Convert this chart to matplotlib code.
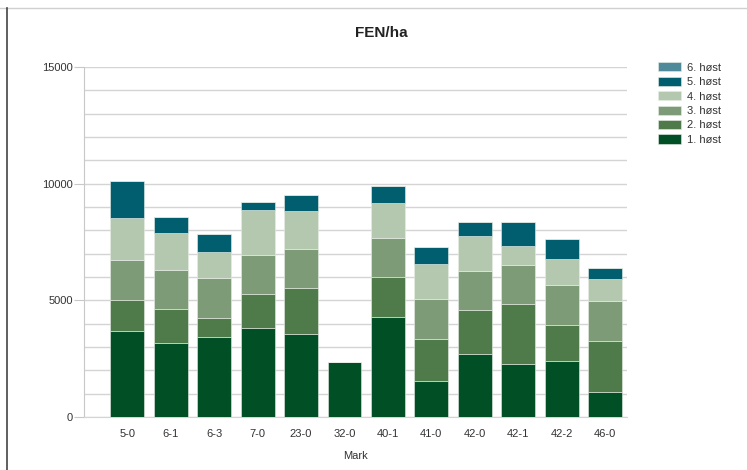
import numpy as np
import matplotlib
matplotlib.use('Agg')
import matplotlib.pyplot as plt
from matplotlib.lines import Line2D

plt.rcParams['font.family'] = ['Liberation Sans', 'DejaVu Sans']

# Data
marks = ['5-0', '6-1', '6-3', '7-0', '23-0', '32-0', '40-1', '41-0',
         '42-0', '42-1', '42-2', '46-0']
host1 = [3700, 3160, 3440, 3810, 3560, 2370, 4270, 1560, 2700, 2290, 2380, 1060]
host2 = [1310, 1450, 790, 1460, 1950, 0, 1720, 1800, 1890, 2550, 1560, 2210]
host3 = [1720, 1690, 1710, 1670, 1690, 0, 1670, 1680, 1680, 1690, 1700, 1690]
host4 = [1790, 1570, 1150, 1930, 1640, 0, 1530, 1500, 1490, 810, 1150, 940]
host5 = [1580, 720, 750, 360, 670, 0, 720, 760, 610, 1030, 820, 500]
host6 = [0, 0, 0, 0, 0, 0, 0, 0, 0, 0, 0, 0]

series = [host1, host2, host3, host4, host5, host6]
labels = ['1. høst', '2. høst', '3. høst', '4. høst', '5. høst', '6. høst']
colors = ['#004f25', '#4f7a4a', '#7e9b78', '#b4c8b0', '#005e6f', '#4f8a9a']

fig = plt.figure(figsize=(7.47, 4.70), dpi=100)
ax = fig.add_axes([0.1124, 0.1128, 0.7266, 0.7446])

x = np.arange(len(marks))
bottom = np.zeros(len(marks))
handles = []
for vals, lab, col in zip(series, labels, colors):
    b = ax.bar(x, vals, width=0.78, bottom=bottom, color=col, label=lab,
               edgecolor='#e8eee6', linewidth=0.4, zorder=3)
    handles.append(b)
    bottom += np.array(vals)

ax.set_xlim(-1.0, 11.5)
ax.set_ylim(0, 15000)
ax.set_yticks([0, 5000, 10000, 15000])
ax.set_yticks(np.arange(0, 15001, 1000), minor=True)
ax.yaxis.grid(True, which='both', color='#d4d4d4', linewidth=1.0, zorder=0)
ax.set_axisbelow(True)
ax.set_xticks(x)
ax.set_xticklabels(marks)

ax.tick_params(axis='y', which='major', length=7, color='#c8c8c8',
               labelsize=8, labelcolor='#333333', pad=1)
ax.tick_params(axis='y', which='minor', length=0)
ax.tick_params(axis='x', length=0, labelsize=8, labelcolor='#333333', pad=9)

for s in ['top', 'right']:
    ax.spines[s].set_visible(False)
ax.spines['left'].set_color('#c8c8c8')
ax.spines['bottom'].set_color('#d4d4d4')

ax.set_xlabel('Mark', fontsize=8, color='#333333', labelpad=8)
fig.text(0.511, 0.93, 'FEN/ha', ha='center', va='center',
         fontsize=11, fontweight='bold', color='#222222')

# Legend, reversed order
leg = fig.legend(handles[::-1], labels[::-1], loc='upper left',
                 bbox_to_anchor=(0.868, 0.889), frameon=False, fontsize=8,
                 handlelength=2.0, handleheight=0.9, labelspacing=0.36,
                 handletextpad=0.6, labelcolor='#333333')

# Frame lines of the original screenshot
fig.add_artist(Line2D([0.0, 1.0], [0.983, 0.983], color='#d0d0d0',
                      linewidth=1.0, transform=fig.transFigure))
fig.add_artist(Line2D([0.0094, 0.0094], [0.0, 0.983], color='#444444',
                      linewidth=1.2, transform=fig.transFigure))

plt.savefig('out.png', dpi=100)
